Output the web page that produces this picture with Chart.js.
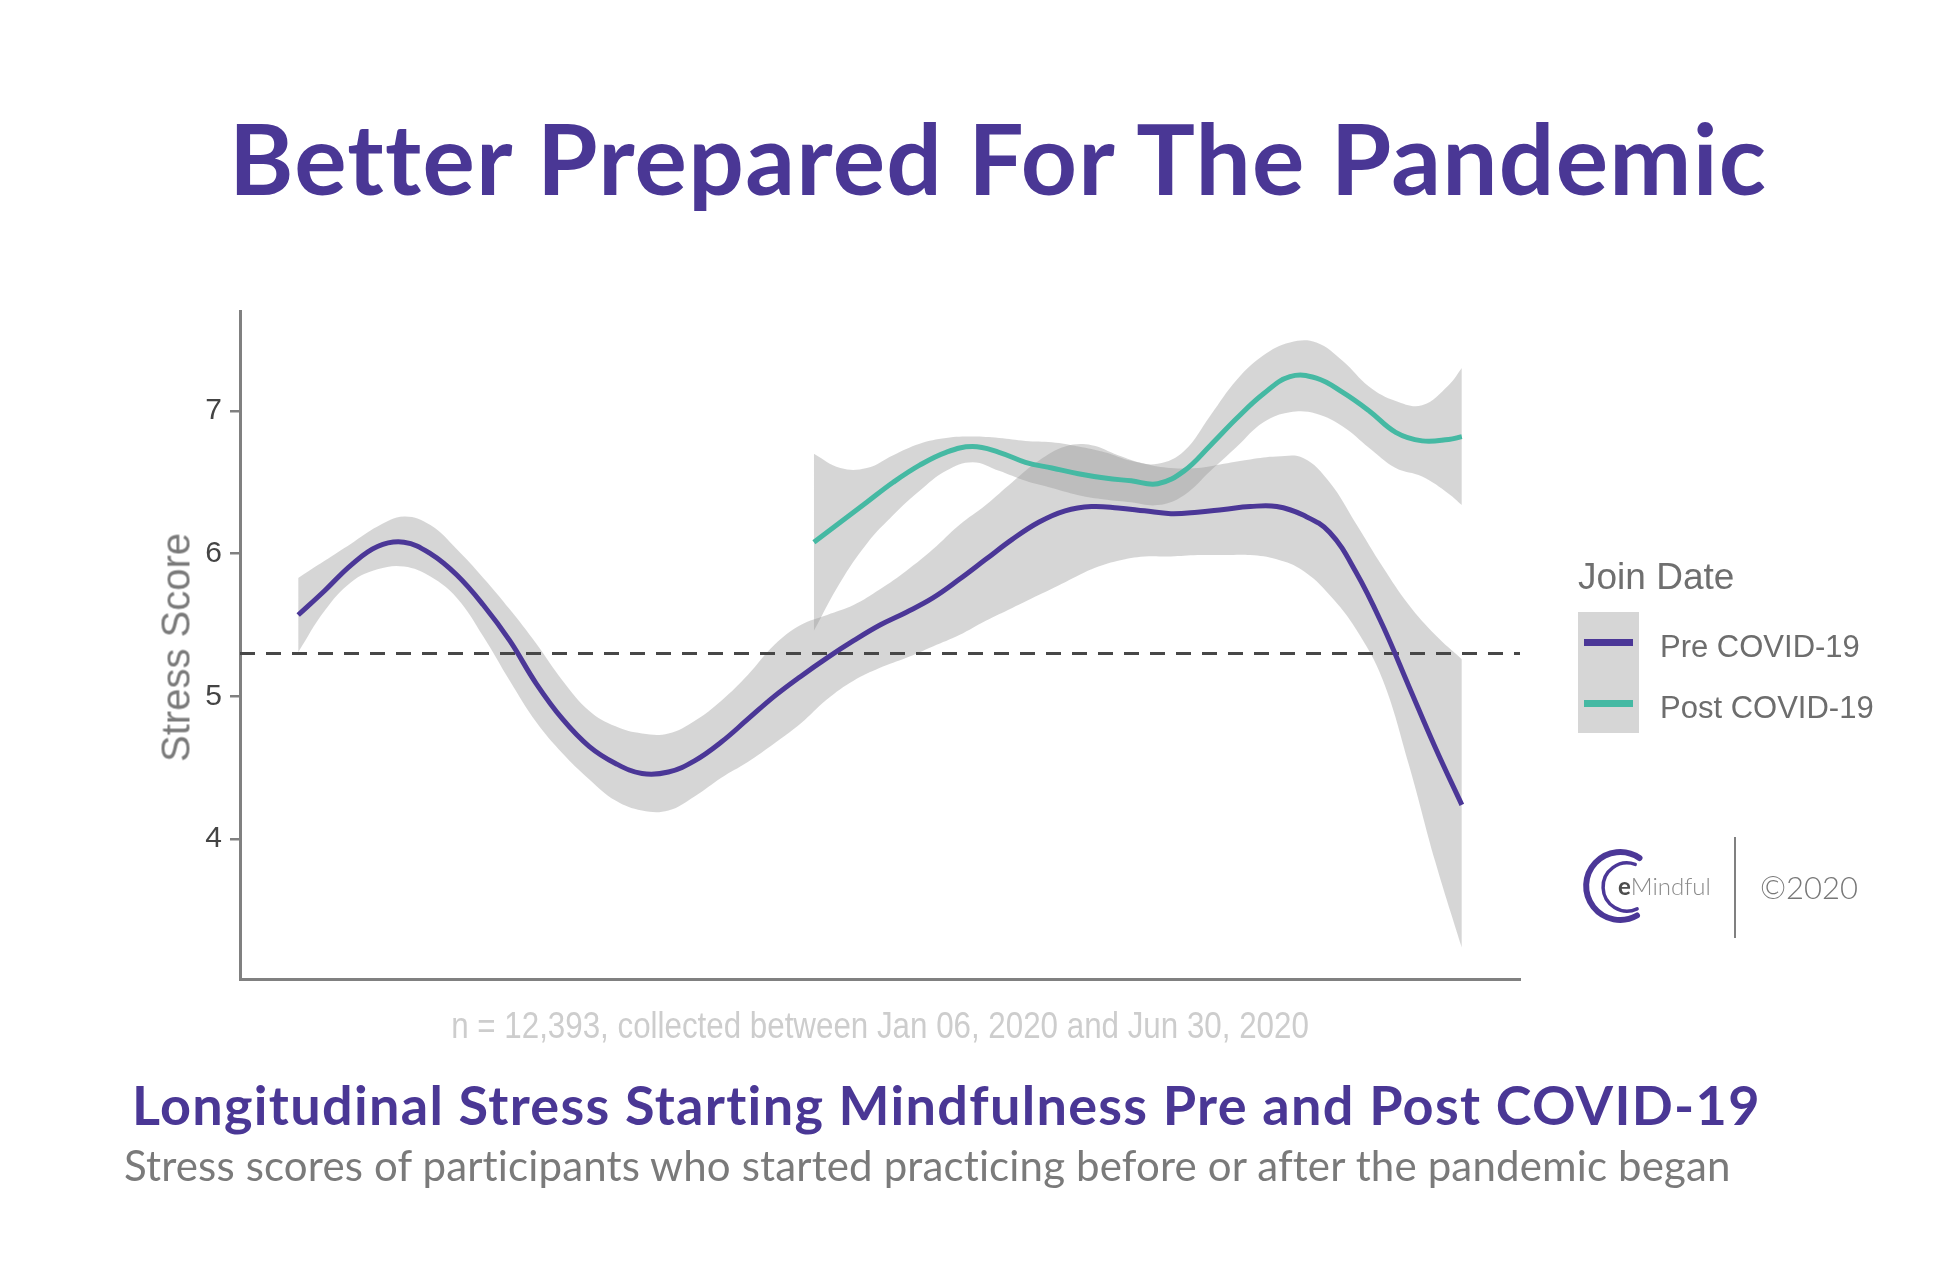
<!DOCTYPE html>
<html>
<head>
<meta charset="utf-8">
<title>Better Prepared For The Pandemic</title>
<script src="https://cdn.jsdelivr.net/npm/chart.js@4.4.1/dist/chart.umd.min.js"></script>
<style>
  html, body { margin: 0; padding: 0; background: #ffffff; }
  body { width: 1941px; height: 1274px; position: relative; overflow: hidden; }
  #chart { position: absolute; left: 0; top: 0; }
  .txt { position: absolute; white-space: nowrap; line-height: 1; font-variant-ligatures: none; }
  #title { left: 229px; top: 98px; font: 700 98px Lato, sans-serif; letter-spacing: 1.3px; color: #4a3795; }
  #caption { left: 380px; width: 1000px; top: 1005px; text-align: center; font: 36px "Liberation Sans", Arial, sans-serif; color: #cdcdcd; transform: scaleX(0.87); }
  #subhead { left: 132px; top: 1072px; font: 700 54px Lato, sans-serif; letter-spacing: 1.3px; color: #4a3795; }
  #subtext { left: 124px; top: 1140px; font: 400 42px Lato, sans-serif; letter-spacing: 0.15px; color: #7a7a7a; }
  #ylab { left: 26px; top: 624.5px; width: 300px; text-align: center; font: 40px "Liberation Sans", Arial, sans-serif; color: #7a7a7a; transform: rotate(-90deg); }
  #legTitle { left: 1578px; top: 556px; font: 37px "Liberation Sans", Arial, sans-serif; color: #6f6f6f; }
  #legKey { position: absolute; left: 1578px; top: 612px; width: 61px; height: 121px; background: #d6d6d6; }
  .keyLine { position: absolute; left: 6px; width: 49px; height: 7px; }
  .legLabel { font: 31px "Liberation Sans", Arial, sans-serif; color: #6d6d6d; left: 1660px; }
  #logo { position: absolute; left: 1575px; top: 835px; }
  #copy { left: 1760px; top: 868px; font: 300 31px Lato, sans-serif; color: #777777; }
</style>
</head>
<body>
<canvas id="chart" width="1941" height="1274"></canvas>

<div id="title" class="txt">Better Prepared For The Pandemic</div>
<div id="ylab" class="txt">Stress Score</div>
<div id="caption" class="txt">n = 12,393, collected between Jan 06, 2020 and Jun 30, 2020</div>
<div id="subhead" class="txt">Longitudinal Stress Starting Mindfulness Pre and Post COVID-19</div>
<div id="subtext" class="txt">Stress scores of participants who started practicing before or after the pandemic began</div>

<div id="legTitle" class="txt">Join Date</div>
<div id="legKey">
  <div class="keyLine" style="top: 27px; background: #4b3797;"></div>
  <div class="keyLine" style="top: 88px; background: #45b9a3;"></div>
</div>
<div class="txt legLabel" style="top: 629px;">Pre COVID-19</div>
<div class="txt legLabel" style="top: 690px;">Post COVID-19</div>

<svg id="logo" width="150" height="110" viewBox="0 0 150 110">
  <path d="M 64.5 23 A 34 34 0 1 0 62 80.5" fill="none" stroke="#4b3797" stroke-width="6" stroke-linecap="round"/>
  <path d="M 60.2 29.4 A 24 24 0 1 0 62.1 73.8" fill="none" stroke="#4b3797" stroke-width="3.5" stroke-linecap="round"/>
  <text x="43" y="60" font-family="Lato, sans-serif" font-size="24"><tspan font-weight="700" fill="#4d4d4d">e</tspan><tspan font-weight="300" fill="#8a8a8a">Mindful</tspan></text>
</svg>
<svg style="position:absolute; left:1733px; top:837px;" width="4" height="101"><line x1="2" y1="0" x2="2" y2="101" stroke="#808080" stroke-width="2"/></svg>
<div id="copy" class="txt">&copy;2020</div>

<script>
// days since Jan 06, 2020
const preDays = [0, 4, 8, 12, 16, 20, 24, 28, 32, 36, 40, 44, 48, 52, 56, 60, 64, 68, 72, 76, 80, 84, 88,
  92, 96, 100, 104, 108, 112, 116, 120, 124, 128, 132, 136, 140, 144, 148, 152, 156, 160, 164, 168, 172, 176];
const preScore = [5.57, 5.74, 5.92, 6.05, 6.08, 6.00, 5.85, 5.64, 5.39, 5.09, 4.84, 4.65, 4.53, 4.46, 4.47,
  4.55, 4.68, 4.84, 5.00, 5.14, 5.27, 5.39, 5.50, 5.59, 5.69, 5.82, 5.96, 6.10, 6.22, 6.30,
  6.33, 6.32, 6.30, 6.28, 6.29, 6.31, 6.33, 6.33, 6.27, 6.15, 5.87, 5.50, 5.07, 4.64, 4.24];
const preUpper = [5.83, 5.95, 6.07, 6.19, 6.26, 6.20, 6.03, 5.83, 5.61, 5.37, 5.11, 4.90, 4.79, 4.74, 4.74,
  4.83, 4.97, 5.15, 5.36, 5.50, 5.57, 5.64, 5.75, 5.88, 6.03, 6.20, 6.34, 6.50, 6.65, 6.75,
  6.76, 6.69, 6.63, 6.60, 6.60, 6.63, 6.66, 6.68, 6.67, 6.50, 6.21, 5.91, 5.64, 5.43, 5.26];
const preLower = [5.31, 5.60, 5.80, 5.89, 5.91, 5.84, 5.69, 5.42, 5.11, 4.82, 4.60, 4.42, 4.27, 4.20, 4.20,
  4.30, 4.43, 4.54, 4.67, 4.81, 4.98, 5.11, 5.20, 5.27, 5.35, 5.43, 5.53, 5.62, 5.71, 5.80,
  5.89, 5.95, 5.98, 5.98, 5.99, 5.99, 5.99, 5.96, 5.88, 5.71, 5.47, 5.12, 4.52, 3.84, 3.24];

const postDays = [78, 82, 86, 90, 94, 98, 102, 106, 110, 114, 118, 122, 126, 130, 134, 138, 142, 146,
  150, 154, 158, 162, 166, 170, 174, 176];
const postScore = [6.08, 6.22, 6.36, 6.50, 6.62, 6.71, 6.75, 6.71, 6.64, 6.60, 6.56, 6.53, 6.51, 6.49,
  6.58, 6.76, 6.95, 7.12, 7.24, 7.23, 7.13, 7.00, 6.85, 6.79, 6.80, 6.82];
const postUpper = [6.70, 6.60, 6.60, 6.69, 6.77, 6.81, 6.82, 6.81, 6.79, 6.78, 6.75, 6.71, 6.65, 6.63,
  6.72, 6.97, 7.22, 7.39, 7.48, 7.48, 7.35, 7.17, 7.07, 7.04, 7.18, 7.30];
const postLower = [5.46, 5.80, 6.07, 6.27, 6.44, 6.58, 6.64, 6.58, 6.51, 6.46, 6.41, 6.38, 6.36, 6.34,
  6.41, 6.58, 6.75, 6.92, 6.99, 6.98, 6.89, 6.74, 6.60, 6.54, 6.42, 6.34];

const baseline = 5.3;
const yTicks = [4, 5, 6, 7];
const xMin = -8.8, xMax = 184.8;
const yMin = 3.02, yMax = 7.70;

const purple = '#4b3797';
const teal = '#45b9a3';
const bandFill = 'rgba(153,153,153,0.4)';
const clear = 'rgba(0,0,0,0)';

const pts = (xs, ys) => xs.map((x, i) => ({ x: x, y: ys[i] }));

new Chart(document.getElementById('chart'), {
    type: 'line',
    data: {
        datasets: [
            { data: pts(preDays, preUpper), fill: '+1', backgroundColor: bandFill, borderColor: clear, borderWidth: 0, tension: 0.4, order: 4 },
            { data: pts(preDays, preLower), fill: false, borderColor: clear, borderWidth: 0, tension: 0.4, order: 4 },
            { data: pts(postDays, postUpper), fill: '+1', backgroundColor: bandFill, borderColor: clear, borderWidth: 0, tension: 0.4, order: 3 },
            { data: pts(postDays, postLower), fill: false, borderColor: clear, borderWidth: 0, tension: 0.4, order: 3 },
            { label: 'threshold', data: [{ x: xMin, y: baseline }, { x: xMax, y: baseline }], borderColor: '#474747', borderWidth: 3, borderDash: [15, 11], tension: 0, order: 2 },
            { label: 'Pre COVID-19', data: pts(preDays, preScore), borderColor: purple, borderWidth: 5, tension: 0.4, order: 1 },
            { label: 'Post COVID-19', data: pts(postDays, postScore), borderColor: teal, borderWidth: 5, tension: 0.4, order: 0 }
        ]
    },
    options: {
        responsive: false,
        animation: false,
        devicePixelRatio: 1,
        layout: { padding: { left: 0, top: 311, right: 421, bottom: 295 } },
        elements: { point: { radius: 0, hoverRadius: 0 } },
        plugins: {
            legend: { display: false },
            tooltip: { enabled: false },
            filler: { propagate: false }
        },
        scales: {
            x: {
                type: 'linear',
                min: xMin,
                max: xMax,
                ticks: { display: false },
                grid: { drawOnChartArea: false, drawTicks: false },
                border: { color: '#808080', width: 3 },
                afterFit: (s) => { s.height = 0; }
            },
            y: {
                min: yMin,
                max: yMax,
                afterBuildTicks: (s) => { s.ticks = yTicks.map(v => ({ value: v })); },
                ticks: { font: { family: 'Liberation Sans', size: 30 }, color: '#444444', padding: 8 },
                grid: { drawOnChartArea: false, tickLength: 10, color: '#808080', lineWidth: 2.5 },
                border: { color: '#808080', width: 3 },
                afterFit: (s) => { s.width = 240; }
            }
        }
    }
});
</script>
</body>
</html>
